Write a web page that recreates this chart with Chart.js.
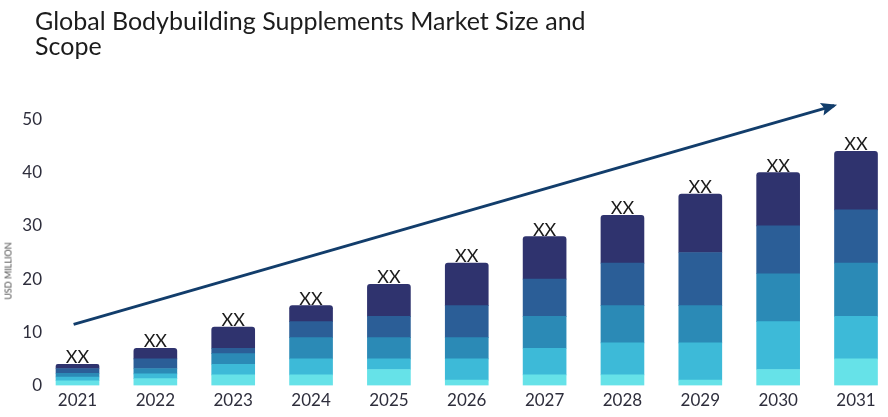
<!DOCTYPE html>
<html>
<head>
<meta charset="utf-8">
<title>Global Bodybuilding Supplements Market Size and Scope</title>
<script src="https://cdn.jsdelivr.net/npm/chart.js@4.4.1/dist/chart.umd.min.js"></script>
<style>
  html, body { margin: 0; padding: 0; background: #fff; }
  .wrap { position: relative; width: 888px; height: 417px; overflow: hidden; }
  .chart-box { position: absolute; left: 0; top: 0; width: 888px; height: 417px; }
  .chart-title {
    position: absolute; left: 35px; top: 8px; margin: 0;
    font-family: Lato, sans-serif; font-weight: 400; font-size: 25px; line-height: 25px;
    color: #1c1c1c; z-index: 2;
  }
  .y-title {
    position: absolute; left: 8px; top: 271px; z-index: 2;
    font-family: Lato, sans-serif; font-size: 9px; color: #4a4a4a;
    transform: translate(-50%, -50%) rotate(-90deg); white-space: nowrap;
  }
</style>
</head>
<body>
<div class="wrap">
  <h1 class="chart-title">Global Bodybuilding Supplements Market Size and<br>Scope</h1>
  <div class="y-title">USD MILLION</div>
  <div class="chart-box"><canvas id="marketChart"></canvas></div>
</div>
<script>
// years on the x axis
const years = [2021, 2022, 2023, 2024, 2025, 2026, 2027, 2028, 2029, 2030, 2031];

// stacked segments, bottom (lightest) to top (darkest)
const segment1 = [0.9, 1.3, 2, 2, 3, 1, 2, 2, 1, 3, 5];
const segment2 = [0.7, 0.9, 2, 3, 2, 4, 5, 6, 7, 9, 8];
const segment3 = [0.7, 1.0, 2, 4, 4, 4, 6, 7, 7, 9, 10];
const segment4 = [0.9, 1.8, 1, 3, 4, 6, 7, 8, 10, 9, 10];
const segment5 = [0.8, 2.0, 4, 3, 6, 8, 8, 9, 11, 10, 11];

const barLabels = ['XX', 'XX', 'XX', 'XX', 'XX', 'XX', 'XX', 'XX', 'XX', 'XX', 'XX'];
const yTicks = [0, 10, 20, 30, 40, 50];

// growth arrow drawn as a two point line
const trendX = [2020.95, 2030.72];
const trendY = [11.5, 52.6];

const segColors = ['#66e2e8', '#3dbad8', '#2b8ab6', '#2b5e97', '#2f336e'];
const segData = [segment1, segment2, segment3, segment4, segment5];

const barSets = segData.map((vals, i) => ({
  type: 'bar',
  label: 'Segment ' + (i + 1),
  data: years.map((y, j) => ({ x: y, y: vals[j] })),
  backgroundColor: segColors[i],
  barThickness: 43,
  borderRadius: 3,
  borderWidth: 0,
  stack: 'market'
}));

const trendSet = {
  type: 'line',
  label: 'trend',
  data: trendX.map((x, i) => ({ x: x, y: trendY[i] })),
  borderColor: '#123d6b',
  borderWidth: 3,
  pointRadius: 0,
  fill: false,
  stack: 'trend',
  clip: false
};

// XX above each bar and the arrow head
const extrasPlugin = {
  id: 'extras',
  afterDatasetsDraw(chart) {
    const ctx = chart.ctx;
    const topMeta = chart.getDatasetMeta(segData.length - 1);
    ctx.save();
    ctx.font = '18px Lato, sans-serif';
    ctx.fillStyle = '#1a1a1a';
    ctx.textAlign = 'center';
    ctx.textBaseline = 'alphabetic';
    topMeta.data.forEach((bar, i) => {
      ctx.fillText(barLabels[i], bar.x, bar.y - 1);
    });
    ctx.restore();

    const pts = chart.getDatasetMeta(segData.length).data;
    const a = pts[pts.length - 2], b = pts[pts.length - 1];
    const ang = Math.atan2(b.y - a.y, b.x - a.x);
    const len = 13, half = 6.5;
    ctx.save();
    ctx.translate(b.x, b.y);
    ctx.rotate(ang);
    ctx.fillStyle = '#123d6b';
    ctx.beginPath();
    ctx.moveTo(3, 0);
    ctx.lineTo(-len, -half);
    ctx.lineTo(-len + 3, 0);
    ctx.lineTo(-len, half);
    ctx.closePath();
    ctx.fill();
    ctx.restore();
  }
};

new Chart(document.getElementById('marketChart'), {
  data: { datasets: [...barSets, trendSet] },
  options: {
    responsive: true,
    maintainAspectRatio: false,
    animation: false,
    layout: { padding: { top: 92.9, right: 0, bottom: 0, left: 0 } },
    plugins: { legend: { display: false }, tooltip: { enabled: false } },
    scales: {
      x: {
        type: 'linear',
        stacked: true,
        offset: false,
        min: 2020.621,
        max: 2031.411,
        grid: { display: false, drawTicks: false, offset: false },
        border: { display: false },
        afterBuildTicks: (axis) => { axis.ticks = years.map(v => ({ value: v })); },
        afterFit: (scale) => { scale.height = 31.5; },
        ticks: {
          padding: 5,
          autoSkip: false,
          maxRotation: 0,
          color: '#2e2e3c',
          font: { family: 'Lato', size: 17 },
          callback: (v) => String(v)
        }
      },
      y: {
        stacked: true,
        min: 0,
        max: 55,
        grid: { display: false, drawTicks: false },
        border: { display: false },
        afterBuildTicks: (axis) => { axis.ticks = yTicks.map(v => ({ value: v })); },
        afterFit: (scale) => { scale.width = 48; },
        ticks: {
          padding: 6,
          color: '#2e2e3c',
          font: { family: 'Lato', size: 17 }
        }
      }
    }
  },
  plugins: [extrasPlugin]
});
</script>
</body>
</html>
